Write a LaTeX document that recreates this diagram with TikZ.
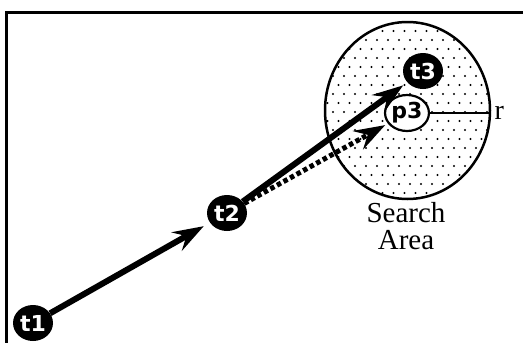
\documentclass[tikz,border=0pt]{standalone}
\usepackage{fontspec}
\setmainfont{Liberation Serif}
\newfontfamily\tagfont{DejaVu Sans}
\usetikzlibrary{arrows.meta,shapes.geometric}
\tikzset{
  track/.style={ellipse,fill=black,text=white,inner sep=0pt,minimum width=40pt,minimum height=36pt,
    font=\tagfont\bfseries\fontsize{22}{22}\selectfont},
  guess/.style={track,fill=white,text=black,draw=black,line width=2.2pt},
  move/.style={line width=6pt,-{Stealth[length=31pt,width=21pt,inset=11pt]}},
  predict/.style={move,line width=5pt,dash pattern=on 4.5pt off 3pt}
}
\begin{document}
\begin{tikzpicture}[x=1pt,y=-1pt]
  \useasboundingbox (0,0) rectangle (523,343);
  % frame
  \draw[line width=3pt] (6.5,343) -- (6.5,12) -- (523,12);
  % search area
  \begin{scope}
    \clip (407.5,110.5) ellipse [x radius=82.5, y radius=88.5];
    \foreach \row in {0,...,20}
      \foreach \col in {0,...,16} {
        \pgfmathsetmacro{\xx}{322+11*\col+5.5*mod(\row,2)}
        \pgfmathsetmacro{\yy}{22+9*\row}
        \fill (\xx,\yy) circle[radius=1.1];
      }
  \end{scope}
  \draw[line width=2.5pt] (407.5,110.5) ellipse [x radius=82.5, y radius=88.5];
  \coordinate (edge) at (490,113);
  % positions
  \node[track] (t1) at (33,323) {t1};
  \node[track] (t2) at (227,213) {t2};
  \node[track] (t3) at (423,71) {t3};
  \node[guess] (p3) at (407,113) {p3};
  \draw[line width=2pt] (p3) -- (edge);
  \node[anchor=west,font=\fontsize{28}{28}\selectfont] (r) at ([xshift=1pt]edge) {r};
  \node[align=center,font=\fontsize{29}{27}\selectfont] (area) at (406,226) {Search\\Area};
  % moves
  \draw[move,shorten >=7pt] (t1) -- (t2);
  \draw[move,shorten >=5pt] (t2) -- (t3);
  \draw[predict,shorten >=3pt] (t2) -- (p3);
\end{tikzpicture}
\end{document}
